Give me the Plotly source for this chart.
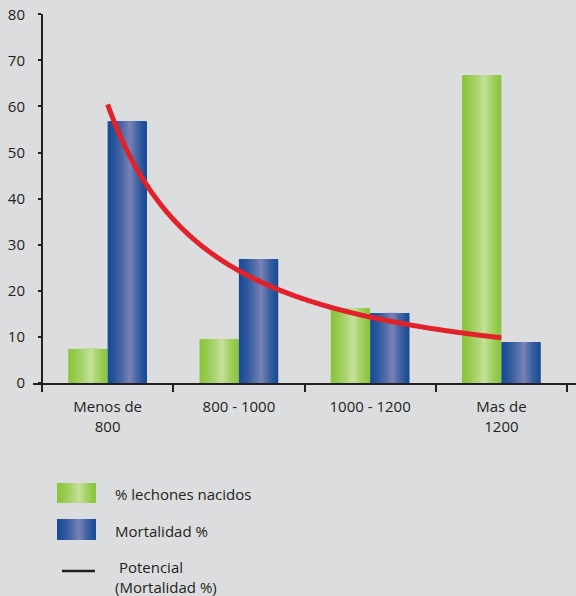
import numpy as np
import plotly.graph_objects as go

# ---- data ----
categories = ["Menos de<br>800", "800 - 1000", "1000 - 1200", "Mas de<br>1200"]
lechones_nacidos = [7.4, 9.5, 16.2, 66.8]
mortalidad = [56.8, 26.9, 15.2, 8.9]
y_ticks = [0, 10, 20, 30, 40, 50, 60, 70, 80]
legend_labels = ["% lechones nacidos", "Mortalidad %", " Potencial<br>(Mortalidad %)"]

# ---- style ----
W, H = 576, 596
BG = "#dcdddf"
INK = "#231f20"
FONT = "Open Sans"
GREEN_EDGE, GREEN_MID = (139, 197, 60), (198, 225, 155)
BLUE_EDGE, BLUE_MID = (24, 76, 150), (123, 131, 182)
RED = "#e1222b"
BAR_W = 0.30
N_LAYERS = 14
PEAK = 0.57
GAMMA = 1.4

def lerp(c1, c2, t):
    return "rgb(%d,%d,%d)" % tuple(round(a + (b - a) * t) for a, b in zip(c1, c2))

xpos = list(range(len(categories)))
fig = go.Figure()

def gradient_bars(values, offset, edge, mid):
    for k in range(N_LAYERS):
        t = k / N_LAYERS
        left = offset + PEAK * BAR_W * t
        right = offset + BAR_W - (1 - PEAK) * BAR_W * t
        fig.add_trace(go.Bar(
            x=xpos, y=values, offset=left, width=right - left,
            marker=dict(color=lerp(edge, mid, ((k + 0.5) / N_LAYERS) ** GAMMA),
                        line=dict(width=0)),
            showlegend=False, hoverinfo="skip"))

gradient_bars(lechones_nacidos, -BAR_W, GREEN_EDGE, GREEN_MID)
gradient_bars(mortalidad, 0.0, BLUE_EDGE, BLUE_MID)

# power trendline (least squares on logs, like a spreadsheet "Potencial" trendline)
idx = np.arange(1, len(mortalidad) + 1)
b, ln_a = np.polyfit(np.log(idx), np.log(mortalidad), 1)
xt = np.linspace(1, len(mortalidad), 300)
fig.add_trace(go.Scatter(x=xt - 1, y=np.exp(ln_a) * xt ** b, mode="lines",
                         line=dict(color=RED, width=5, shape="spline"), showlegend=False,
                         hoverinfo="skip", cliponaxis=False))

# ---- axes ----
cat_px = (567 - 42) / 4.0
x_lo = -0.5 - 9 / cat_px
x_hi = 3.5 + 9 / cat_px
y0_px, y80_px = 383, 14.3

fig.update_layout(
    width=W, height=H, margin=dict(l=0, r=0, t=0, b=0, autoexpand=False),
    paper_bgcolor=BG, plot_bgcolor=BG, barmode="overlay",
    font=dict(family=FONT, size=15, color=INK),
    xaxis=dict(domain=[33 / W, 1], range=[x_lo, x_hi], tickmode="array",
               tickvals=xpos, ticktext=categories, ticks="", showgrid=False,
               zeroline=False, showline=True, linecolor=INK, linewidth=2,
               ticklabelstandoff=9, automargin=False,
               minor=dict(ticks="outside", ticklen=7, tickwidth=2, tickcolor=INK,
                          tickmode="array", tickvals=[-0.5, 0.5, 1.5, 2.5, 3.5],
                          showgrid=False),
               tickfont=dict(size=15, color=INK)),
    yaxis=dict(domain=[(H - y0_px) / H, (H - y80_px) / H], range=[0, 80],
               tickmode="array", tickvals=y_ticks, anchor="free", position=42 / W,
               showgrid=False, zeroline=False, showline=True, linecolor=INK,
               linewidth=2, ticks="outside", ticklen=3, tickwidth=2, tickcolor=INK,
               ticklabelstandoff=10, automargin=False,
               tickfont=dict(size=15, color=INK)),
)

# ---- manual legend ----
def px_x(v):
    return v / W

def px_y(v):
    return 1 - v / H

def legend_rect(x0, x1, y0, y1, edge, mid):
    for k in range(N_LAYERS):
        t = k / N_LAYERS
        l = x0 + PEAK * (x1 - x0) * t
        r = x1 - (1 - PEAK) * (x1 - x0) * t
        fig.add_shape(type="rect", xref="paper", yref="paper",
                      x0=px_x(l), x1=px_x(r), y0=px_y(y1), y1=px_y(y0),
                      fillcolor=lerp(edge, mid, ((k + 0.5) / N_LAYERS) ** GAMMA),
                      line=dict(width=0))

legend_rect(57, 96, 483, 503, GREEN_EDGE, GREEN_MID)
legend_rect(57, 96, 519, 540, BLUE_EDGE, BLUE_MID)
fig.add_shape(type="line", xref="paper", yref="paper", x0=px_x(62), x1=px_x(95),
              y0=px_y(571), y1=px_y(571), line=dict(color=INK, width=2.5))

for text, yc in zip(legend_labels, [494, 531, 577]):
    fig.add_annotation(xref="paper", yref="paper", x=px_x(113), y=px_y(yc),
                       xanchor="left", yanchor="middle", align="left", text=text,
                       showarrow=False, font=dict(size=15, color=INK, family=FONT))

fig.write_html("out.html")
